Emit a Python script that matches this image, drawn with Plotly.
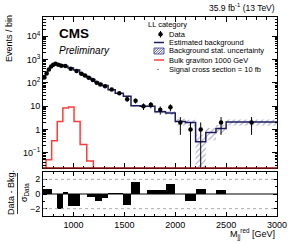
import plotly.graph_objects as go
import numpy as np

# ---------------- data ----------------
edges = [700, 725, 745, 770, 790, 812, 835, 865, 895, 945, 1000, 1060, 1095, 1130, 1170, 1210,
         1245, 1280, 1340, 1410, 1490, 1565, 1655, 1720, 1800, 1905, 2000, 2100, 2200, 2300,
         2400, 2500, 3000]
data = [170, 250, 370, 500, 600, 660, 600, 545, 520, 400, 320, 245, 205, 165, 132, 100, 85, 72,
        52, 36, 20, 17, 10, 11.5, 7, 9, 2, 1, 1, 0, 2, 2]
bkg = [161, 239, 356, 484, 600, 660, 649, 592, 513, 434, 350, 245, 205, 170, 137, 109, 93, 76,
       51, 35.4, 26.7, 10.4, 10, 9.8, 5.7, 5.1, 2.2, 2.0, 0.3, 0.75, 1.1, 2.1]
bkg_err = [5, 7, 10, 13, 15, 16, 16, 15, 13, 12, 10, 8, 7, 7, 6, 5, 5, 4, 3.5, 2.8, 2.5, 1.2,
           1.2, 1.3, 0.9, 0.9, 0.7, 0.6, 0.299, 0.4, 0.45, 0.6]
pull = [0.7, 0.7, 0.7, 0.7, 0, 0, -2, -2, 0.3, -1.7, -1.7, 0, 0, -0.4, -0.4, -0.9, -0.9, -0.5,
        0.1, 0.1, -1.5, 1.6, 0, 0.5, 0.5, 1.3, 0, -1, 0.7, 0, 0.6, 0]

sig_edges = [730, 785, 840, 895, 950, 1005, 1065, 1130, 1195]
sig = [0.05, 0.33, 2.2, 8.3, 9.3, 2.2, 0.23, 0.045]

y_ticks = [0.1, 1, 10, 100, 1000, 10000]
y_ticktext = ["10<sup>\u22121</sup>", "1", "10", "10<sup>2</sup>", "10<sup>3</sup>", "10<sup>4</sup>"]
x_ticks = [1000, 1500, 2000, 2500, 3000]
r_ticks = [-2, 0, 2]
r_ticktext = ["\u22122", "0", "2"]

# ---------------- derived ----------------
edges_a = np.array(edges, float)
centers = 0.5 * (edges_a[1:] + edges_a[:-1])
widths = edges_a[1:] - edges_a[:-1]
data_a = np.array(data, float)
bkg_a = np.array(bkg, float)
err_a = np.array(bkg_err, float)
TINY = 1e-4

FONT = "Liberation Sans, Arial, sans-serif"
L, R, T, B = 43, 11, 17, 27
W, H = 288, 243
PW, PH = W - L - R, H - T - B


def px(x):
    return (x - L) / PW


def py(y):
    return (H - B - y) / PH


fig = go.Figure()

# uncertainty band (hatched)
up = bkg_a + err_a
lo = np.maximum(bkg_a - err_a, 1e-3)
bx, byv = [], []
for i in range(len(bkg)):
    bx += [edges[i], edges[i + 1]]
    byv += [up[i], up[i]]
for i in reversed(range(len(bkg))):
    bx += [edges[i + 1], edges[i]]
    byv += [lo[i], lo[i]]
fig.add_trace(go.Scatter(x=bx, y=byv, mode="lines", fill="toself", line=dict(width=0),
                         fillcolor="rgba(0,0,0,0)",
                         fillpattern=dict(shape="/", fgcolor="#3b3b8f", size=4, solidity=0.25,
                                          bgcolor="rgba(0,0,0,0)"),
                         hoverinfo="skip", showlegend=False, xaxis="x", yaxis="y"))

# background step
fig.add_trace(go.Scatter(x=edges, y=list(bkg) + [bkg[-1]], mode="lines", line_shape="hv",
                         line=dict(color="#1c1c5e", width=1.5), showlegend=False,
                         xaxis="x", yaxis="y"))

# signal step
sx = [sig_edges[0]] + sig_edges + [sig_edges[-1]]
sy = [TINY] + sig + [sig[-1], TINY]
fig.add_trace(go.Scatter(x=sx, y=sy, mode="lines", line_shape="hv",
                         line=dict(color="#ff3b3b", width=1.5), showlegend=False,
                         xaxis="x", yaxis="y"))

# data
mask = data_a > 0
dv = data_a[mask]
e_up = np.sqrt(dv)
e_dn = np.minimum(np.sqrt(dv), dv * 0.9999)
fig.add_trace(go.Scatter(x=centers[mask], y=dv, mode="markers",
                         marker=dict(color="black", size=4.5),
                         error_y=dict(type="data", array=e_up, arrayminus=e_dn, symmetric=False,
                                      color="black", thickness=1, width=0),
                         showlegend=False, xaxis="x", yaxis="y"))

# ratio panel
fig.add_trace(go.Bar(x=centers, y=pull, width=widths, marker=dict(color="black", line=dict(width=0)),
                     showlegend=False, xaxis="x2", yaxis="y2"))

top_lo = py(168)
bot_hi = py(172)

minor_log = [m * 10.0 ** k for k in range(-2, 5) for m in range(2, 10)]

common_ax = dict(ticks="inside", mirror="allticks", showline=True, linecolor="black", linewidth=1,
                 tickcolor="black", showgrid=False, zeroline=False, automargin=False,
                 tickfont=dict(family=FONT, size=9, color="black"))

fig.update_layout(
    width=W, height=H, margin=dict(l=L, r=R, t=T, b=B, pad=0), paper_bgcolor="white",
    plot_bgcolor="white", showlegend=False, bargap=0,
    xaxis=dict(domain=[0, 1], range=[700, 3000], anchor="y", showticklabels=False,
               tickvals=x_ticks, ticklen=5,
               minor=dict(dtick=100, tick0=700, ticks="inside", ticklen=2.5, tickcolor="black"),
               **common_ax),
    yaxis=dict(domain=[top_lo, 1], type="log", range=[-1.65, 4.82], anchor="x",
               tickvals=y_ticks, ticktext=y_ticktext, ticklen=5,
               minor=dict(tickmode="array", tickvals=minor_log, ticks="inside", ticklen=2.5,
                          tickcolor="black"),
               **common_ax),
    xaxis2=dict(domain=[0, 1], range=[700, 3000], anchor="y2", tickvals=x_ticks, ticklen=4,
                minor=dict(dtick=100, tick0=700, ticks="inside", ticklen=2, tickcolor="black"),
                **common_ax),
    yaxis2=dict(domain=[0, bot_hi], range=[-3, 3], anchor="x2", tickvals=r_ticks,
                ticktext=r_ticktext, ticklen=4,
                minor=dict(dtick=1, ticks="inside", ticklen=2, tickcolor="black"),
                **common_ax),
)

shapes = []
# ratio reference lines
for yv, col, dash in [(2, "#aaaaaa", "dot"), (-2, "#aaaaaa", "dot"), (0, "black", "solid")]:
    shapes.append(dict(type="line", xref="x2 domain", yref="y2", x0=0, x1=1, y0=yv, y1=yv,
                       line=dict(color=col, width=1, dash=dash), layer="above"))
# dark red baseline of signal at bottom of top panel
shapes.append(dict(type="line", xref="paper", yref="paper", x0=0, x1=1, y0=top_lo, y1=top_lo,
                   line=dict(color="#8b1010", width=1.5)))

# legend glyphs
shapes.append(dict(type="line", xref="paper", yref="paper", x0=px(160.5), x1=px(160.5),
                   y0=py(31), y1=py(37.5), line=dict(color="black", width=1)))
r = 2.2
shapes.append(dict(type="circle", xref="paper", yref="paper", x0=px(160.5 - r), x1=px(160.5 + r),
                   y0=py(34.2 - r), y1=py(34.2 + r), fillcolor="black", line=dict(width=0)))
r2 = 0.6
shapes.append(dict(type="circle", xref="paper", yref="paper", x0=px(158 - r2), x1=px(158 + r2),
                   y0=py(69.3 - r2), y1=py(69.3 + r2), fillcolor="black", line=dict(width=0)))
shapes.append(dict(type="line", xref="paper", yref="paper", x0=px(154), x1=px(164),
                   y0=py(42.5), y1=py(42.5), line=dict(color="#1c1c5e", width=1.5)))
shapes.append(dict(type="line", xref="paper", yref="paper", x0=px(154), x1=px(164),
                   y0=py(60), y1=py(60), line=dict(color="#ff3b3b", width=1.5)))
# hatched legend box
bx0, bx1, by0, by1 = 154, 164, 48, 54
path = "M{:.4f},{:.4f} L{:.4f},{:.4f} L{:.4f},{:.4f} L{:.4f},{:.4f} Z".format(
    px(bx0), py(by0), px(bx1), py(by0), px(bx1), py(by1), px(bx0), py(by1))
step = 2.5
s = bx0 - (by1 - by0)
while s < bx1:
    xa, ya = s, by1
    xb, yb = s + (by1 - by0), by0
    if xa < bx0:
        ya = by1 - (bx0 - xa)
        xa = bx0
    if xb > bx1:
        yb = by0 + (xb - bx1)
        xb = bx1
    if xb > xa:
        path += " M{:.4f},{:.4f} L{:.4f},{:.4f}".format(px(xa), py(ya), px(xb), py(yb))
    s += step
shapes.append(dict(type="path", xref="paper", yref="paper", path=path,
                   line=dict(color="#3b3b8f", width=0.8)))
# ratio title fraction bar
shapes.append(dict(type="line", xref="paper", yref="paper", x0=px(17.5), x1=px(17.5),
                   y0=py(173), y1=py(214), line=dict(color="black", width=0.8)))
fig.update_layout(shapes=shapes)

ann = []


def text(x, y, t, size=7.5, xa="left", ya="middle", angle=0):
    ann.append(dict(x=px(x), y=py(y), xref="paper", yref="paper", text=t, showarrow=False,
                    xanchor=xa, yanchor=ya, textangle=angle,
                    font=dict(family=FONT, size=size, color="black")))


text(57, 33, "<b>CMS</b>", size=13.5)
text(57, 50.5, "<i>Preliminary</i>", size=10)
text(277, 8, "35.9 fb<sup>-1</sup> (13 TeV)", size=8.5, xa="right")
text(146, 25, "LL category", size=7.5)
text(166.5, 34.2, "Data")
text(166.5, 42.7, "Estimated background")
text(166.5, 51, "Background stat. uncertainty")
text(166.5, 60.3, "Bulk graviton 1000 GeV")
text(166.5, 69.3, "Signal cross section = 10 fb")
text(9, 39, "Events / bin", size=9, xa="center", angle=-90)
text(11, 193, "Data - Bkg.", size=9, xa="center", angle=-90)
text(24, 193, "\u03c3<sub>Data</sub>", size=9, xa="center", angle=-90)
text(277, 234, "M<sub>jj</sub><sup>red</sup> [GeV]", size=9, xa="right")
fig.update_layout(annotations=ann)

fig.write_html("out.html", config={"displayModeBar": False, "staticPlot": True},
               post_script="document.body.style.margin='0';document.body.style.overflow='hidden';")
